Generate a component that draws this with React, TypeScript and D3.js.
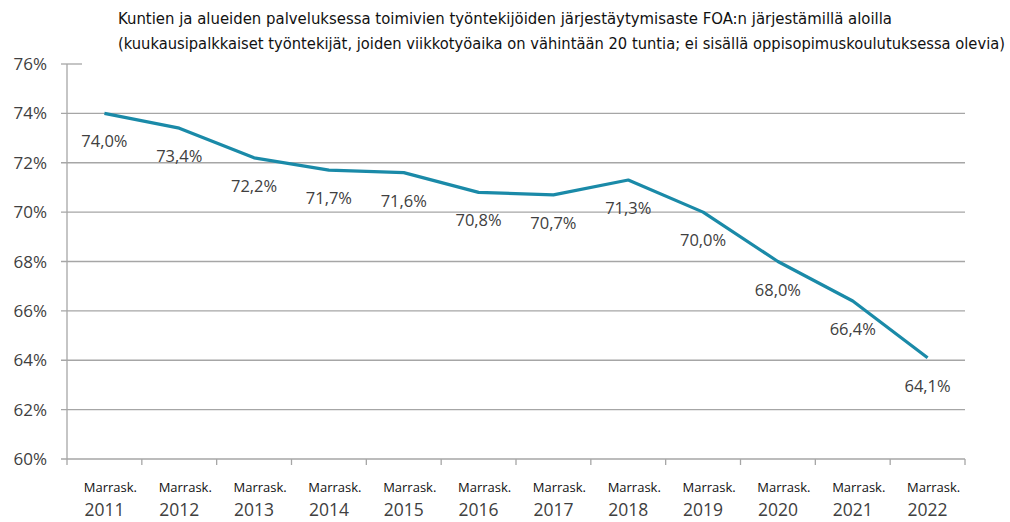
import React from "react";
import * as d3 from "d3";

const titleLines = [
  "Kuntien ja alueiden palveluksessa toimivien työntekijöiden järjestäytymisaste FOA:n järjestämillä aloilla",
  "(kuukausipalkkaiset työntekijät, joiden viikkotyöaika on vähintään 20 tuntia; ei sisällä oppisopimuskoulutuksessa olevia)",
];
const years = ["2011", "2012", "2013", "2014", "2015", "2016", "2017", "2018", "2019", "2020", "2021", "2022"];
const monthLabel = "Marrask.";
const values = [74.0, 73.4, 72.2, 71.7, 71.6, 70.8, 70.7, 71.3, 70.0, 68.0, 66.4, 64.1];
const yTicks = [60, 62, 64, 66, 68, 70, 72, 74, 76];

const W = 1010;
const H = 522;
const left = 67;
const right = 965;
const top = 64;
const bottom = 459;

export default function App() {
  const x = d3.scaleBand<string>().domain(years).range([left, right]).paddingInner(0).paddingOuter(0);
  const y = d3.scaleLinear().domain([60, 76]).range([bottom, top]);
  const line = d3
    .line<number>()
    .x((_, i) => (x(years[i]) as number) + x.bandwidth() / 2)
    .y((d) => y(d));
  const fmt = (v: number) => v.toFixed(1).replace(".", ",") + "%";
  const font = "'Open Sans', 'Noto Sans', sans-serif";
  const gray = "#a6a6a6";
  const textCol = "#404040";

  return (
    <svg width={W} height={H} style={{ position: "absolute", left: 0, top: 0 }} fontFamily={font}>
      <rect width={W} height={H} fill="#fff" />
      {titleLines.map((t, i) => (
        <text
          key={i}
          x={118}
          y={24 + i * 25}
          fontSize={15}
          fill="#111"
          fontFamily="'Liberation Sans Narrow', 'DejaVu Sans Condensed', 'Roboto', sans-serif"
          textLength={i === 0 ? 774 : 887}
          lengthAdjust="spacingAndGlyphs"
        >
          {t}
        </text>
      ))}
      {yTicks.map((t) => (
        <line
          key={t}
          x1={left - 6}
          x2={t === 76 ? left + 15 : right}
          y1={y(t)}
          y2={y(t)}
          stroke={gray}
          strokeWidth={1.3}
        />
      ))}
      <line x1={left} x2={left} y1={top} y2={bottom + 6} stroke={gray} strokeWidth={1.3} />
      {years.map((yr) => {
        const xe = (x(yr) as number) + x.bandwidth();
        return <line key={yr} x1={xe} x2={xe} y1={bottom} y2={bottom + 6} stroke={gray} strokeWidth={1.3} />;
      })}
      {yTicks.map((t) => (
        <text key={t} x={47} y={y(t) + 6} textAnchor="end" fontSize={17} fill={textCol}>
          {t}%
        </text>
      ))}
      {years.map((yr) => {
        const cx = (x(yr) as number) + x.bandwidth() / 2;
        return (
          <g key={yr}>
            <text x={cx + 6} y={492} textAnchor="middle" fontSize={13} fill="#111">
              {monthLabel}
            </text>
            <text x={cx} y={516} textAnchor="middle" fontSize={17.5} fill={textCol}>
              {yr}
            </text>
          </g>
        );
      })}
      <path d={line(values) || ""} fill="none" stroke="#1a8aa8" strokeWidth={3.2} strokeLinejoin="round" />
      {values.map((v, i) => {
        const cx = (x(years[i]) as number) + x.bandwidth() / 2;
        return (
          <text key={i} x={cx} y={y(v) + 34} textAnchor="middle" fontSize={16.5} fill={textCol}>
            {fmt(v)}
          </text>
        );
      })}
    </svg>
  );
}
